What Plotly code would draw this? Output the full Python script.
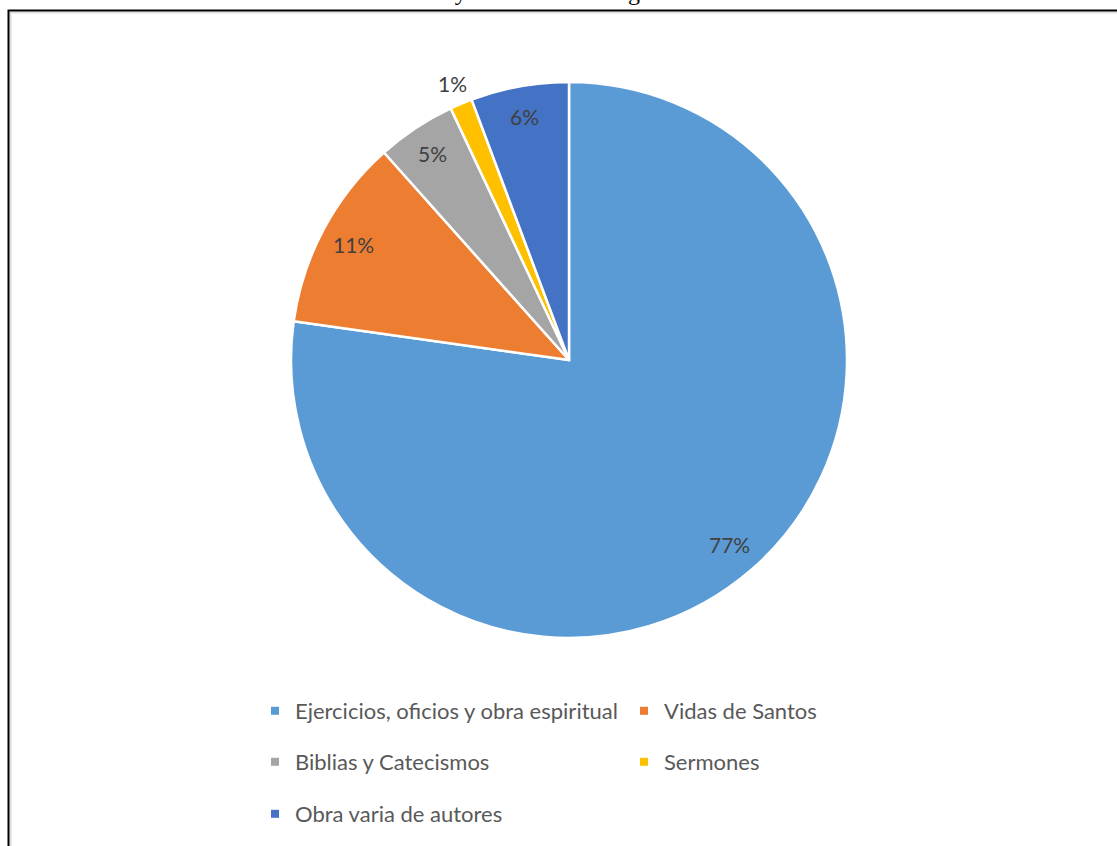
import math
import plotly.graph_objects as go

categories = ["Ejercicios, oficios y obra espiritual", "Vidas de Santos",
              "Biblias y Catecismos", "Sermones", "Obra varia de autores"]
values = [77.3, 11.2, 4.6, 1.3, 5.7]
colors = ["#5B9BD5", "#ED7D31", "#A5A5A5", "#FFC000", "#4472C4"]
label_radius = [0.88, 0.88, 0.89, 1.08, 0.89]   # label distance as fraction of radius
title_text = "Sevilla y Madrid de los siglos"

W, H = 1117, 846
CX, CY, R = 569, 360, 278  # pie centre / radius in pixels

fig = go.Figure()
fig.add_trace(go.Pie(
    labels=categories, values=values, sort=False, direction="clockwise",
    rotation=0, marker=dict(colors=colors, line=dict(color="white", width=2.5)),
    textinfo="none", showlegend=False, hoverinfo="label+percent",
    domain=dict(x=[(CX - R) / W, (CX + R) / W], y=[1 - (CY + R) / H, 1 - (CY - R) / H]),
))

# percentage labels placed at the slice bisector, like the original
total = sum(values)
annotations = []
cum = 0.0
for v, rf in zip(values, label_radius):
    mid = (cum + v / 2) / total * 2 * math.pi
    cum += v
    px = CX + rf * R * math.sin(mid)
    py = CY - rf * R * math.cos(mid)
    annotations.append(dict(text=f"{round(v / total * 100)}%", x=px / W, y=1 - py / H,
                            xref="paper", yref="paper", showarrow=False,
                            xanchor="center", yanchor="middle",
                            font=dict(family="Lato, Open Sans, sans-serif", size=21,
                                      color="#404040")))
annotations.append(dict(text=title_text, x=525 / W, y=1 - 7 / H, xref="paper", yref="paper",
                        xanchor="center", yanchor="bottom", showarrow=False,
                        font=dict(family="Liberation Serif, Times New Roman, serif",
                                  size=24, color="black")))

legend_ids = ["legend", "legend", "legend2", "legend2", "legend3"]
for cat, col, lg in zip(categories, colors, legend_ids):
    fig.add_trace(go.Scatter(x=[None], y=[None], mode="markers", name=cat,
                             marker=dict(symbol="square", size=8, color=col),
                             legend=lg, showlegend=True))

leg_common = dict(orientation="h", xanchor="left", yanchor="middle",
                  font=dict(family="Lato, Open Sans, sans-serif", size=22, color="#595959"),
                  entrywidth=324, entrywidthmode="pixels", bgcolor="rgba(0,0,0,0)",
                  itemwidth=30)
x_leg = (275 - 20) / W
fig.update_layout(
    width=W, height=H, margin=dict(l=0, r=0, t=0, b=0),
    paper_bgcolor="white", plot_bgcolor="white",
    xaxis=dict(visible=False), yaxis=dict(visible=False),
    legend=dict(x=x_leg, y=1 - 711 / H, **leg_common),
    legend2=dict(x=x_leg, y=1 - 762 / H, **leg_common),
    legend3=dict(x=x_leg, y=1 - 814 / H, **leg_common),
    shapes=[
        dict(type="rect", xref="paper", yref="paper",
             x0=10.5 / W, x1=1.05, y0=-0.05, y1=1 - 12.5 / H,
             line=dict(color="#DDDDDD", width=2)),
        dict(type="rect", xref="paper", yref="paper",
             x0=8.5 / W, x1=1.05, y0=-0.05, y1=1 - 10.5 / H,
             line=dict(color="black", width=2)),
    ],
    annotations=annotations,
)
fig.write_html("out.html", config={"displayModeBar": False},
               post_script="document.body.style.margin='0';")
